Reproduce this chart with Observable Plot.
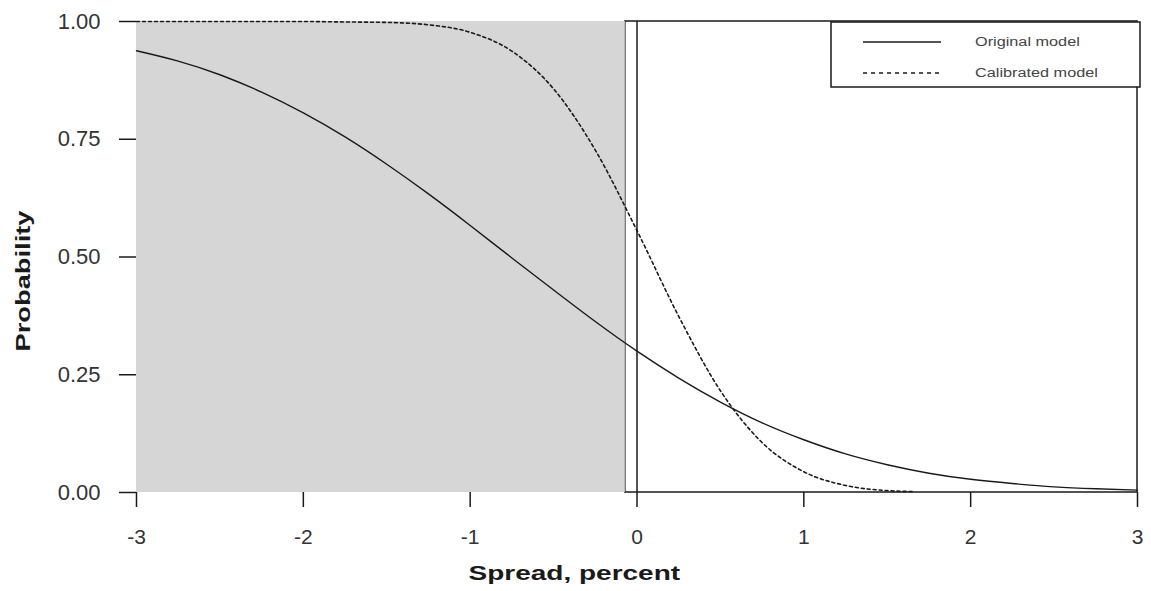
<!DOCTYPE html>
<html>
<head>
<meta charset="utf-8">
<script src="https://cdn.jsdelivr.net/npm/d3@7"></script>
<script src="https://cdn.jsdelivr.net/npm/@observablehq/plot@0.6"></script>
<style>
  html, body { margin: 0; padding: 0; background: #fff; }
  #wrap { position: relative; width: 1151px; height: 591px; }
  #legend { position: absolute; left: 830px; top: 21px; }
</style>
</head>
<body>
<div id="wrap"></div>
<script>
// Spread, percent (x) and probability readings
const spreadOriginal = [-3, -2.75, -2.5, -2.25, -2, -1.75, -1.5, -1.25, -1, -0.75, -0.5, -0.25, 0, 0.25, 0.5, 0.75, 1, 1.25, 1.5, 1.75, 2, 2.25, 2.5, 2.75, 3];
const probOriginal   = [0.938, 0.916, 0.887, 0.850, 0.806, 0.755, 0.697, 0.634, 0.567, 0.498, 0.430, 0.363, 0.300, 0.243, 0.192, 0.148, 0.112, 0.082, 0.059, 0.041, 0.028, 0.019, 0.012, 0.008, 0.005];
const spreadCalibrated = [-3, -2.5, -2, -1.75, -1.5, -1.25, -1, -0.75, -0.5, -0.25, 0, 0.25, 0.5, 0.75, 1, 1.25, 1.5, 1.65];
const probCalibrated   = [1.000, 1.000, 1.000, 0.999, 0.998, 0.993, 0.977, 0.937, 0.857, 0.727, 0.556, 0.374, 0.216, 0.106, 0.044, 0.015, 0.004, 0.002];
const shadeFrom = -3, shadeTo = -0.07;
const xTicks = [-3, -2, -1, 0, 1, 2, 3];
const yTicks = [0, 0.25, 0.5, 0.75, 1];
const seriesNames = ["Original model", "Calibrated model"];
const xTitle = "Spread, percent";
const yTitle = "Probability";

const original = spreadOriginal.map((x, i) => ({x, y: probOriginal[i]}));
const calibrated = spreadCalibrated.map((x, i) => ({x, y: probCalibrated[i]}));

const ink = "#1a1a1a";
const font = "'Liberation Sans', Arial, Helvetica, sans-serif";
const chart = Plot.plot({
  width: 1151,
  height: 591,
  marginLeft: 136,
  marginRight: 14,
  marginTop: 21,
  marginBottom: 99,
  style: {fontFamily: font, background: "#fff"},
  x: {domain: [-3, 3]},
  y: {domain: [0, 1]},
  marks: [
    Plot.rect([{x1: -0.07, x2: 3, y1: 0, y2: 1}], {x1: "x1", x2: "x2", y1: "y1", y2: "y2", fill: "none", stroke: ink, strokeWidth: 1.5}),
    Plot.rect([{x1: shadeFrom, x2: shadeTo, y1: 0, y2: 1}], {x1: "x1", x2: "x2", y1: "y1", y2: "y2", fill: "#d6d6d6"}),
    Plot.ruleX([0], {stroke: ink, strokeWidth: 1.5}),
    Plot.line(original, {x: "x", y: "y", curve: "natural", stroke: ink, strokeWidth: 1.4}),
    Plot.line(calibrated, {x: "x", y: "y", curve: "monotone-x", stroke: ink, strokeWidth: 1.6, strokeDasharray: "3,3"}),
    Plot.axisY({ticks: yTicks, tickFormat: d3.format(".2f"), tickSize: 17, tickPadding: 19, fontSize: 22, stroke: ink, strokeWidth: 1.5, color: "#333", label: null}),
    Plot.axisX({ticks: xTicks, tickFormat: d => String(d), tickSize: 15, tickPadding: 22, fontSize: 21, stroke: ink, strokeWidth: 1.5, color: "#333", label: null}),
    Plot.text([xTitle], {frameAnchor: "bottom-left", dx: 332, dy: 87, textAnchor: "start", lineAnchor: "bottom", text: d => d, fontSize: 20, fontWeight: "bold", fill: ink, className: "xtitle"}),
    Plot.text([yTitle], {frameAnchor: "left", dx: -107, dy: 24, rotate: -90, textAnchor: "middle", lineAnchor: "bottom", text: d => d, fontSize: 21, fontWeight: "bold", fill: ink, className: "ytitle"})
  ]
});
const wrap = document.getElementById("wrap");
wrap.appendChild(chart);

// wide-set lettering like the reference
function stretch(sel, factor) {
  sel.each(function() {
    const len = this.getComputedTextLength();
    this.setAttribute("textLength", (len * factor).toFixed(1));
    this.setAttribute("lengthAdjust", "spacingAndGlyphs");
  });
}
stretch(d3.select(chart).selectAll(".xtitle text"), 1.4);
stretch(d3.select(chart).selectAll(".ytitle text"), 1.3);

// legend
const lg = d3.select(wrap).append("svg").attr("id", "legend").attr("width", 312).attr("height", 68)
  .style("font-family", font);
lg.append("rect").attr("x", 1).attr("y", 1).attr("width", 309).attr("height", 65)
  .attr("fill", "#fff").attr("stroke", ink).attr("stroke-width", 1.5);
const rows = [{name: seriesNames[0], dash: null, y: 21}, {name: seriesNames[1], dash: "4,4", y: 52}];
rows.forEach(r => {
  lg.append("line").attr("x1", 33).attr("x2", 111).attr("y1", r.y).attr("y2", r.y)
    .attr("stroke", ink).attr("stroke-width", 1.4).attr("stroke-dasharray", r.dash);
  lg.append("text").attr("x", 145).attr("y", r.y).attr("dy", "0.35em").attr("font-size", 12.5)
    .attr("fill", "#444").text(r.name);
});
stretch(lg.selectAll("text"), 1.3);
</script>
</body>
</html>
